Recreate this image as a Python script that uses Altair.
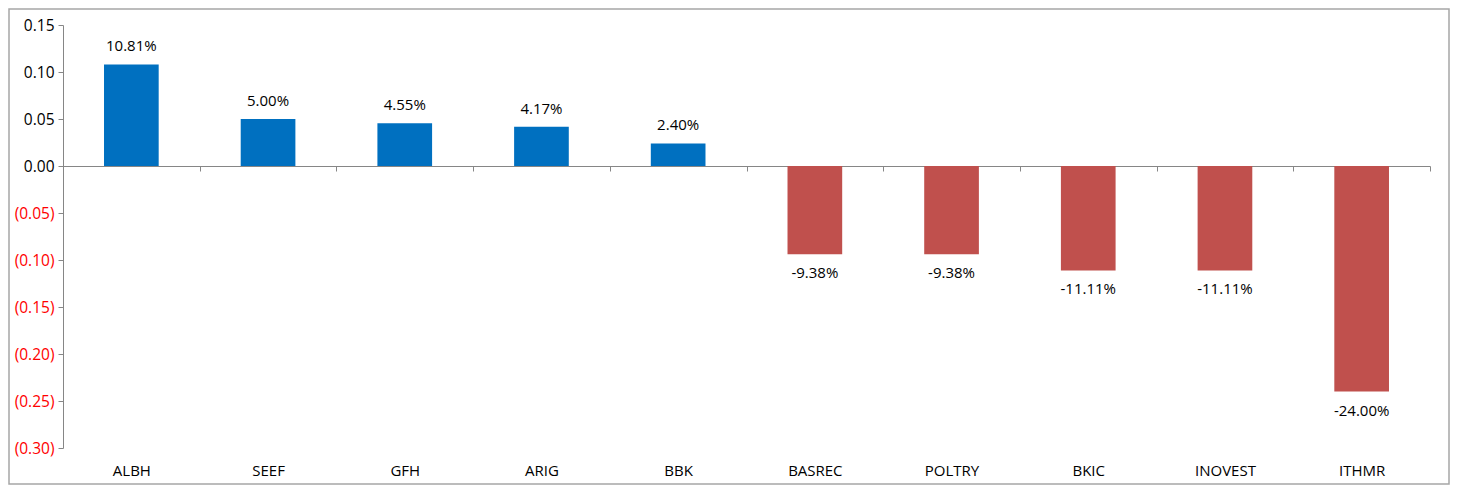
import altair as alt
import pandas as pd

categories = ["ALBH", "SEEF", "GFH", "ARIG", "BBK", "BASREC", "POLTRY", "BKIC", "INOVEST", "ITHMR"]
values = [0.1081, 0.0500, 0.0455, 0.0417, 0.0240, -0.0938, -0.0938, -0.1111, -0.1111, -0.2400]
y_ticks = [0.15, 0.10, 0.05, 0.0, -0.05, -0.10, -0.15, -0.20, -0.25, -0.30]

df = pd.DataFrame({"cat": categories, "val": values})
df["sign"] = ["pos" if v >= 0 else "neg" for v in values]
df["label"] = [f"{v*100:.2f}%" for v in values]

W, H = 1367, 423
FONT = "Open Sans"
y_scale = alt.Scale(domain=[-0.30, 0.15], nice=False, zero=False)
zero_px = H * (0.15 / 0.45)
off = H - zero_px  # distance of zero line above the bottom

x_enc = alt.X(
    "cat:N", sort=categories, title=None,
    scale=alt.Scale(paddingInner=0, paddingOuter=0),
    axis=alt.Axis(
        orient="bottom", offset=-off, labelAngle=0, domainColor="#868686",
        tickColor="#868686", tickSize=5, tickBand="extent",
        labelPadding=off + 10, labelFontSize=15, labelFont=FONT, labelColor="#000000",
        grid=False,
    ),
)

y_enc = alt.Y(
    "val:Q", scale=y_scale, title=None,
    axis=alt.Axis(
        values=y_ticks, grid=False, domainColor="#868686", tickColor="#868686",
        tickSize=5, labelPadding=4, labelFontSize=15.5, labelFont=FONT,
        labelExpr="datum.value < -0.0001 ? '(' + format(-datum.value, '.2f') + ')' : format(abs(datum.value), '.2f')",
        labelColor={"condition": {"test": "datum.value < -0.0001", "value": "#ff0000"}, "value": "#000000"},
    ),
)

bars = alt.Chart(df).mark_bar(width=alt.RelativeBandSize(0.4)).encode(
    x=x_enc,
    y=y_enc,
    y2=alt.datum(0),
    color=alt.Color("sign:N", scale=alt.Scale(domain=["pos", "neg"], range=["#0070C0", "#C0504D"]), legend=None),
)

pos_text = alt.Chart(df).transform_filter("datum.val >= 0").mark_text(
    dy=-18, fontSize=15, font=FONT, color="#000000"
).encode(x=alt.X("cat:N", sort=categories), y=alt.Y("val:Q", scale=y_scale), text="label:N")

neg_text = alt.Chart(df).transform_filter("datum.val < 0").mark_text(
    dy=19, fontSize=15, font=FONT, color="#000000"
).encode(x=alt.X("cat:N", sort=categories), y=alt.Y("val:Q", scale=y_scale), text="label:N")

border = alt.Chart(pd.DataFrame({"a": [0]})).mark_rect(
    fill=None, stroke="#a6a6a6", strokeWidth=1.5, clip=False
).encode(
    x=alt.value(-54), x2=alt.value(W + 19), y=alt.value(-16), y2=alt.value(H + 36)
)

chart = alt.layer(border, bars, pos_text, neg_text).properties(
    width=W, height=H,
    autosize=alt.AutoSizeParams(type="none"),
    padding={"left": 55, "top": 17, "right": 20, "bottom": 37},
).configure_view(stroke=None)

chart.save("out.html", embed_options={"renderer": "svg", "actions": False})
